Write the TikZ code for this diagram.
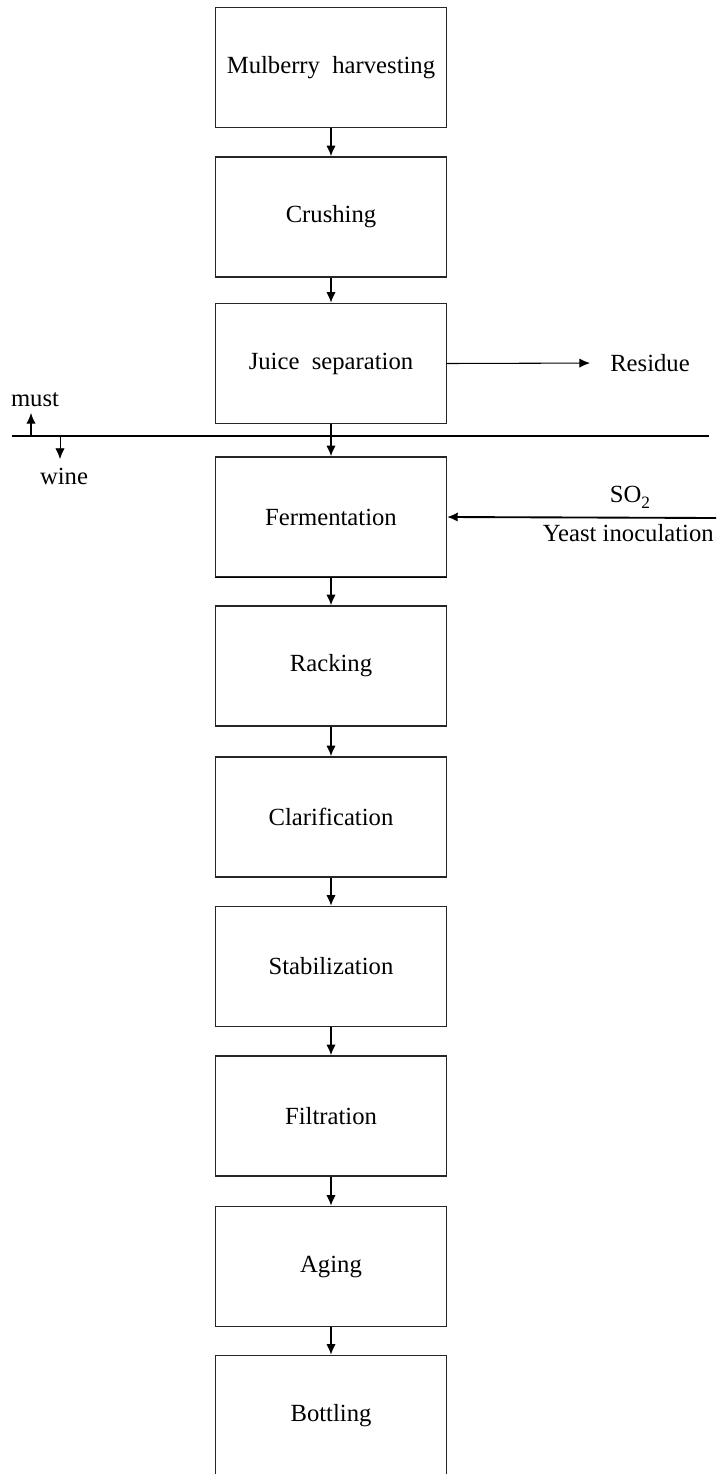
\documentclass[tikz,border=0pt]{standalone}
\usepackage{fontspec}
\setmainfont{Liberation Serif}
\usetikzlibrary{arrows.meta}

\begin{document}
\begin{tikzpicture}[x=0.75pt, y=-0.75pt,
        every node/.style={font=\fontsize{18.5}{22}\selectfont},
        stepbox/.style={draw=black!85, line width=1.1pt, minimum width=173pt,
        minimum height=90pt, inner sep=0pt},
        tip/.style={-{Latex[length=8pt, width=7pt]}},
        flow/.style={tip, line width=1.1pt}]
        \useasboundingbox (0,0) rectangle (718,1474);
        % process steps
        \node[stepbox] (harvest) at (331,67.5) {Mulberry\ \ harvesting};
        \node[stepbox] (crush) at (331,217) {Crushing};
        \node[stepbox] (juice) at (331,363.5) {Juice\ \ separation};
        \node[stepbox] (ferment) at (331,517) {Fermentation};
        \node[stepbox] (rack) at (331,666) {Racking};
        \node[stepbox] (clarify) at (331,817) {Clarification};
        \node[stepbox] (stabil) at (331,966.5) {Stabilization};
        \node[stepbox] (filter) at (331,1116) {Filtration};
        \node[stepbox] (aging) at (331,1266.5) {Aging};
        \node[stepbox] (bottle) at (331,1415.5) {Bottling};
        \draw[line width=0.9pt] (ferment.south west) -- (ferment.south east);
        \foreach \a/\b in {harvest/crush, crush/juice, juice/ferment, ferment/rack,
            rack/clarify, clarify/stabil, stabil/filter, filter/aging, aging/bottle}
            \draw[flow] (\a) -- (\b);
        % must / wine
        \coordinate (lineW) at (12,436);
        \coordinate (lineE) at (709,436);
        \draw[line width=2.2pt] (lineW) -- (lineE);
        \node (must) at (35,400) {must};
        \node (wine) at (64,476) {wine};
        \coordinate (mustfoot) at (31,436);
        \coordinate (musttip) at (31,413);
        \coordinate (winefoot) at (60,437);
        \coordinate (winetip) at (60,459);
        \draw[tip, line width=0.8pt] (mustfoot) -- (musttip);
        \draw[tip, line width=0.6pt] (winefoot) -- (winetip);
        % side streams
        \node[anchor=west, inner sep=0pt] (residue) at (610,363) {Residue};
        \draw[tip, line width=0.8pt, shorten >=15pt] (juice.east) -- (residue.west);
        \node (so2) at (630,497) {SO\raisebox{-0.55ex}{\fontsize{13}{13}\selectfont 2}};
        \node[anchor=east, inner sep=0pt] (yeast) at (714,533) {Yeast inoculation};
        \coordinate (addin) at (716,518);
        \draw[tip, line width=1.4pt] (addin) -- (ferment.east);
    \end{tikzpicture}
\end{document}
